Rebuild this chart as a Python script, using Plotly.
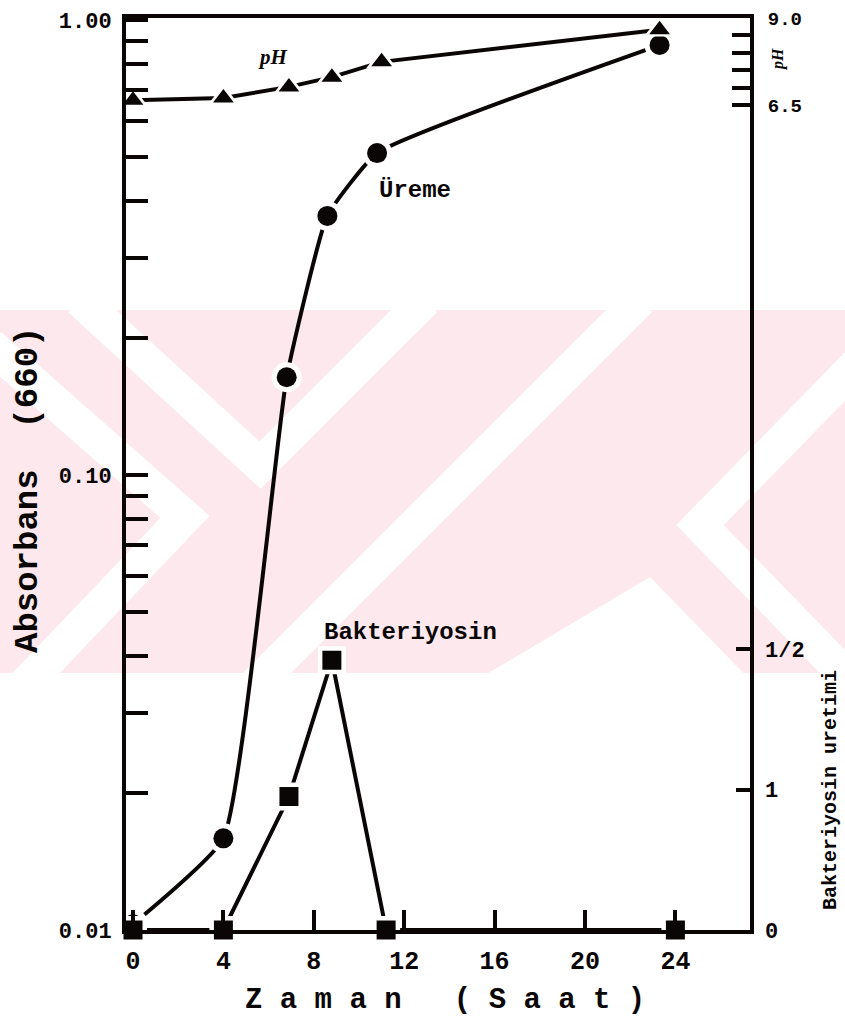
import plotly.graph_objects as go

# ---------------- data ----------------
ureme_saat = [0, 4, 6.8, 8.6, 10.8, 23.3]
ureme_abs = [0.0103, 0.0159, 0.164, 0.371, 0.51, 0.881]

ph_saat = [0, 4, 6.9, 8.8, 11.0, 23.3]
ph_deger = [6.64, 6.70, 7.02, 7.30, 7.74, 8.66]

bak_saat = [0, 4, 6.9, 8.8, 11.2, 24]
bak_uretim = [0, 0, 0.95, 1.92, 0, 0]

x_tickvals = [0, 4, 8, 12, 16, 20, 24]
x_ticktext = ["0", "4", "8", "12", "16", "20", "24"]

abs_tickvals = [0.01, 0.02, 0.03, 0.04, 0.05, 0.06, 0.07, 0.08, 0.09,
                0.1, 0.2, 0.3, 0.4, 0.5, 0.6, 0.7, 0.8, 0.9, 1.0]
abs_ticktext = ["0.01", "", "", "", "", "", "", "", "",
                "0.10", "", "", "", "", "", "", "", "", "1.00"]

ph_tickvals = [6.5, 7.0, 7.5, 8.0, 8.5, 9.0]
ph_ticktext = ["6.5", "", "", "", "", "9.0"]

bak_tickvals = [0, 1, 2]
bak_ticktext = ["0", "1", "1/2"]

# ---------------- geometry ----------------
W, H = 845, 1023
L, R, T, B = 126, 750, 18, 930
PX_PER_HOUR = 22.6
X0_PX = 133
DECADE_PX = 455.0
PH_PX = 34.8
BAK_PX = 140.5

x_range = [-(X0_PX - L) / PX_PER_HOUR, (R - X0_PX) / PX_PER_HOUR]
y_range = [-2, -2 + (B - T) / DECADE_PX]
y2_range = [9.0 - (B - T) / PH_PX, 9.0]
y3_range = [0, (B - T) / BAK_PX]


def px_x(p):
    return (p - L) / (R - L)


def px_y(p):
    return (B - p) / (B - T)


MONO = "Liberation Mono"
INK = "#0a0606"

fig = go.Figure()

fig.add_trace(go.Scatter(x=ureme_saat, y=ureme_abs, mode="lines",
                         line=dict(color=INK, width=4, shape="spline", smoothing=0.4),
                         yaxis="y", hoverinfo="skip"))
fig.add_trace(go.Scatter(x=ureme_saat, y=ureme_abs, mode="markers",
                         marker=dict(symbol="circle", size=30, color="white"),
                         yaxis="y", hoverinfo="skip"))
fig.add_trace(go.Scatter(x=ureme_saat, y=ureme_abs, mode="markers", name="Üreme",
                         marker=dict(symbol="circle", size=20, color=INK),
                         yaxis="y", cliponaxis=False))

fig.add_trace(go.Scatter(x=ph_saat, y=ph_deger, mode="lines",
                         line=dict(color=INK, width=4), yaxis="y2", hoverinfo="skip"))
fig.add_trace(go.Scatter(x=ph_saat, y=ph_deger, mode="markers",
                         marker=dict(symbol="triangle-up", size=27, color="white"),
                         yaxis="y2", hoverinfo="skip"))
fig.add_trace(go.Scatter(x=ph_saat, y=ph_deger, mode="markers", name="pH",
                         marker=dict(symbol="triangle-up", size=18, color=INK),
                         yaxis="y2", cliponaxis=False))

fig.add_trace(go.Scatter(x=bak_saat, y=bak_uretim, mode="lines",
                         line=dict(color=INK, width=4), yaxis="y3", hoverinfo="skip"))
fig.add_trace(go.Scatter(x=bak_saat, y=bak_uretim, mode="markers",
                         marker=dict(symbol="square", size=28, color="white"),
                         yaxis="y3", hoverinfo="skip", cliponaxis=False))
fig.add_trace(go.Scatter(x=bak_saat, y=bak_uretim, mode="markers", name="Bakteriyosin",
                         marker=dict(symbol="square", size=19, color=INK),
                         yaxis="y3", cliponaxis=False))

# ---------------- watermark (decorative background) ----------------
PINK = "#fde9ed"
shapes = [dict(type="rect", xref="paper", yref="paper", layer="below",
               x0=px_x(0), x1=px_x(W), y0=px_y(673), y1=px_y(310),
               fillcolor=PINK, line=dict(width=0))]


def band(points, width=34):
    d = "M " + " L ".join(f"{px_x(a):.4f},{px_y(b):.4f}" for a, b in points)
    return dict(type="path", xref="paper", yref="paper", layer="below", path=d,
                line=dict(color="white", width=width))


shapes.append(band([(80, 300), (260, 465), (425, 300)]))
shapes.append(band([(-10, 345), (185, 517), (20, 690)]))
shapes.append(band([(250, 690), (640, 300)]))
shapes.append(band([(920, 300), (700, 525), (860, 690)]))
tri = "M {} L {} L {} Z".format(f"{px_x(650):.4f},{px_y(577):.4f}",
                                f"{px_x(460):.4f},{px_y(690):.4f}",
                                f"{px_x(760):.4f},{px_y(690):.4f}")
shapes.append(dict(type="path", xref="paper", yref="paper", layer="below", path=tri,
                   fillcolor="white", line=dict(width=0)))

# ---------------- annotations ----------------
ann = []


def text(s, xp, yp, size, angle=0, family=MONO, weight="bold", style="normal",
         xanchor="center"):
    ann.append(dict(text=s, x=px_x(xp), y=px_y(yp), xref="paper", yref="paper",
                    showarrow=False, textangle=angle, xanchor=xanchor, yanchor="middle",
                    font=dict(family=family, size=size, color=INK, weight=weight,
                              style=style)))


text("Absorbans  (660)", 28, 490, 34, angle=-90)
text("Z a m a n   ( S a a t )", 445, 1000, 29)
text("Bakteriyosin uretimi", 830, 790, 20, angle=-90)
text("pH", 778, 60, 16, angle=-90, family="Liberation Serif", style="italic")
text("pH", 273, 57, 21, family="Liberation Serif", style="italic")
text("Üreme", 377, 190, 24, xanchor="left")
text("Bakteriyosin", 322, 632, 24, xanchor="left")

fig.update_layout(
    width=W, height=H,
    margin=dict(l=L, r=W - R, t=T, b=H - B, autoexpand=False),
    paper_bgcolor="white", plot_bgcolor="rgba(0,0,0,0)",
    showlegend=False,
    shapes=shapes,
    annotations=ann,
    xaxis=dict(range=x_range, tickvals=x_tickvals, ticktext=x_ticktext,
               automargin=False,
               showgrid=False, zeroline=False, showline=True, linewidth=4,
               linecolor=INK, mirror=True, ticks="inside", ticklen=20, tickwidth=4,
               tickcolor=INK, ticklabelstandoff=5,
               tickfont=dict(family=MONO, size=25, color=INK, weight="bold")),
    yaxis=dict(type="log", range=y_range, tickvals=abs_tickvals, ticktext=abs_ticktext,
               automargin=False,
               showgrid=False, zeroline=False, showline=True, linewidth=4,
               linecolor=INK, ticks="inside", ticklen=22, tickwidth=4, tickcolor=INK,
               ticklabelstandoff=6,
               tickfont=dict(family=MONO, size=22, color=INK, weight="bold")),
    yaxis2=dict(range=y2_range, overlaying="y", side="right", anchor="x",
                automargin=False,
                tickvals=ph_tickvals, ticktext=ph_ticktext,
                showgrid=False, zeroline=False, showline=True, linewidth=4,
                linecolor=INK, ticks="inside", ticklen=18, tickwidth=4, tickcolor=INK,
                ticklabelstandoff=10,
                tickfont=dict(family=MONO, size=19, color=INK, weight="bold")),
    yaxis3=dict(range=y3_range, overlaying="y", side="right", anchor="x",
                automargin=False,
                tickvals=bak_tickvals, ticktext=bak_ticktext,
                showgrid=False, zeroline=False, showline=False,
                ticks="inside", ticklen=14, tickwidth=4, tickcolor=INK,
                ticklabelstandoff=14,
                tickfont=dict(family=MONO, size=22, color=INK, weight="bold")),
)

fig.write_html("out.html",
               config={"displayModeBar": False, "staticPlot": True},
               post_script="document.body.style.margin='0';document.body.style.padding='0';")
